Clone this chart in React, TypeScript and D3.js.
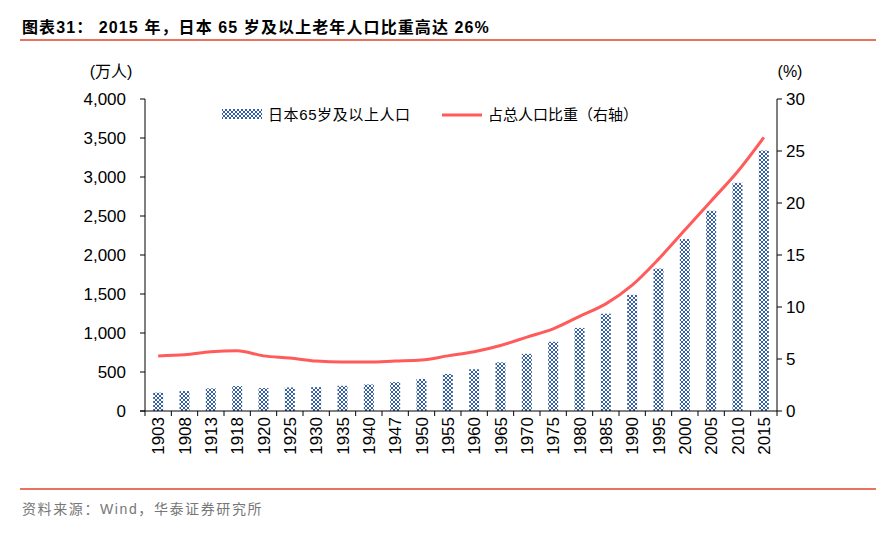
import React from "react";
import * as d3 from "d3";

const years = ["1903","1908","1913","1918","1920","1925","1930","1935","1940","1947","1950","1955","1960","1965","1970","1975","1980","1985","1990","1995","2000","2005","2010","2015"];
const elderly = [235,255,290,320,294,302,306,323,340,370,411,475,535,624,733,887,1065,1247,1489,1826,2204,2567,2925,3340];
const share = [5.3,5.4,5.7,5.8,5.3,5.1,4.8,4.7,4.7,4.8,4.9,5.3,5.7,6.3,7.1,7.9,9.1,10.3,12.1,14.6,17.4,20.2,23.0,26.3];
const leftTicks = [0,500,1000,1500,2000,2500,3000,3500,4000];
const rightTicks = [0,5,10,15,20,25,30];

const W = 892, H = 533;
const L = 145, R = 777, T = 99, B = 411;
const font = "'Liberation Sans', Arial, 'Noto Sans CJK SC', sans-serif";

export default function App() {
  const x = d3.scaleBand<string>().domain(years).range([L, R]).paddingInner(0.62).paddingOuter(0.31);
  const xb = d3.scaleBand<string>().domain(years).range([L, R]);
  const yL = d3.scaleLinear().domain([0, 4000]).range([B, T]);
  const yR = d3.scaleLinear().domain([0, 30]).range([B, T]);
  const line = d3.line<number>()
    .x((_, i) => xb(years[i])! + xb.bandwidth() / 2)
    .y(d => yR(d))
    .curve(d3.curveMonotoneX);
  const fmt = d3.format(",");
  return (
    <svg width={W} height={H} style={{ position: "absolute", left: 0, top: 0, background: "#fff" }}>
      <defs>
        <pattern id="xp" width="4" height="4" patternUnits="userSpaceOnUse">
          <rect width="4" height="4" fill="#ffffff" />
          <path d="M0,0 L4,4 M4,0 L0,4" stroke="#1F4E96" strokeWidth="0.9" />
        </pattern>
      </defs>
      <text x={22} y={33} fontFamily={font} fontWeight="bold" fontSize={16} letterSpacing={1.1} fill="#000">图表31：  2015 年，日本 65 岁及以上老年人口比重高达 26%</text>
      <line x1={20} x2={876} y1={40} y2={40} stroke="#E8735F" strokeWidth={2} />

      <text x={111} y={77} textAnchor="middle" fontFamily={font} fontSize={16} fill="#000">(万人)</text>
      <text x={790} y={77} textAnchor="middle" fontFamily={font} fontSize={16} fill="#000">(%)</text>

      {elderly.map((v, i) => (
        <rect key={i} x={x(years[i])} y={yL(v)} width={x.bandwidth()} height={B - yL(v)} fill="url(#xp)" />
      ))}

      <line x1={L} x2={L} y1={T} y2={B} stroke="#000" />
      {leftTicks.map(t => (
        <g key={t}>
          <line x1={L - 5} x2={L} y1={yL(t)} y2={yL(t)} stroke="#000" />
          <text x={L - 19} y={yL(t) + 6} textAnchor="end" fontFamily={font} fontSize={17} fill="#000">{fmt(t)}</text>
        </g>
      ))}
      <line x1={R} x2={R} y1={T} y2={B} stroke="#000" />
      {rightTicks.map(t => (
        <g key={t}>
          <line x1={R} x2={R + 5} y1={yR(t)} y2={yR(t)} stroke="#000" />
          <text x={R + 9} y={yR(t) + 6} textAnchor="start" fontFamily={font} fontSize={17} fill="#000">{t}</text>
        </g>
      ))}
      <line x1={L - 5} x2={R} y1={B} y2={B} stroke="#000" />
      {years.map((y, i) => (
        <g key={y}>
          <line x1={xb(y)} x2={xb(y)} y1={B} y2={B + 5} stroke="#000" />
          <text transform={`translate(${xb(y)! + xb.bandwidth() / 2 + 6},${B + 6}) rotate(-90)`} textAnchor="end" fontFamily={font} fontSize={17} fill="#000">{y}</text>
        </g>
      ))}
      <line x1={R} x2={R} y1={B} y2={B + 5} stroke="#000" />

      <path d={line(share)!} fill="none" stroke="#FF5B5B" strokeWidth={3} />

      <rect x={222} y={109} width={40} height={10} fill="url(#xp)" />
      <text x={268} y={120} fontFamily={font} fontSize={15} letterSpacing={0.6} fill="#000">日本65岁及以上人口</text>
      <line x1={442} x2={482} y1={115} y2={115} stroke="#FF5B5B" strokeWidth={3} />
      <text x={488} y={120} fontFamily={font} fontSize={15} fill="#000">占总人口比重（右轴）</text>

      <line x1={20} x2={876} y1={489} y2={489} stroke="#E8735F" strokeWidth={2} />
      <text x={22} y={514} fontFamily={font} fontSize={14} letterSpacing={1.6} fill="#777">资料来源：Wind，华泰证券研究所</text>
    </svg>
  );
}
